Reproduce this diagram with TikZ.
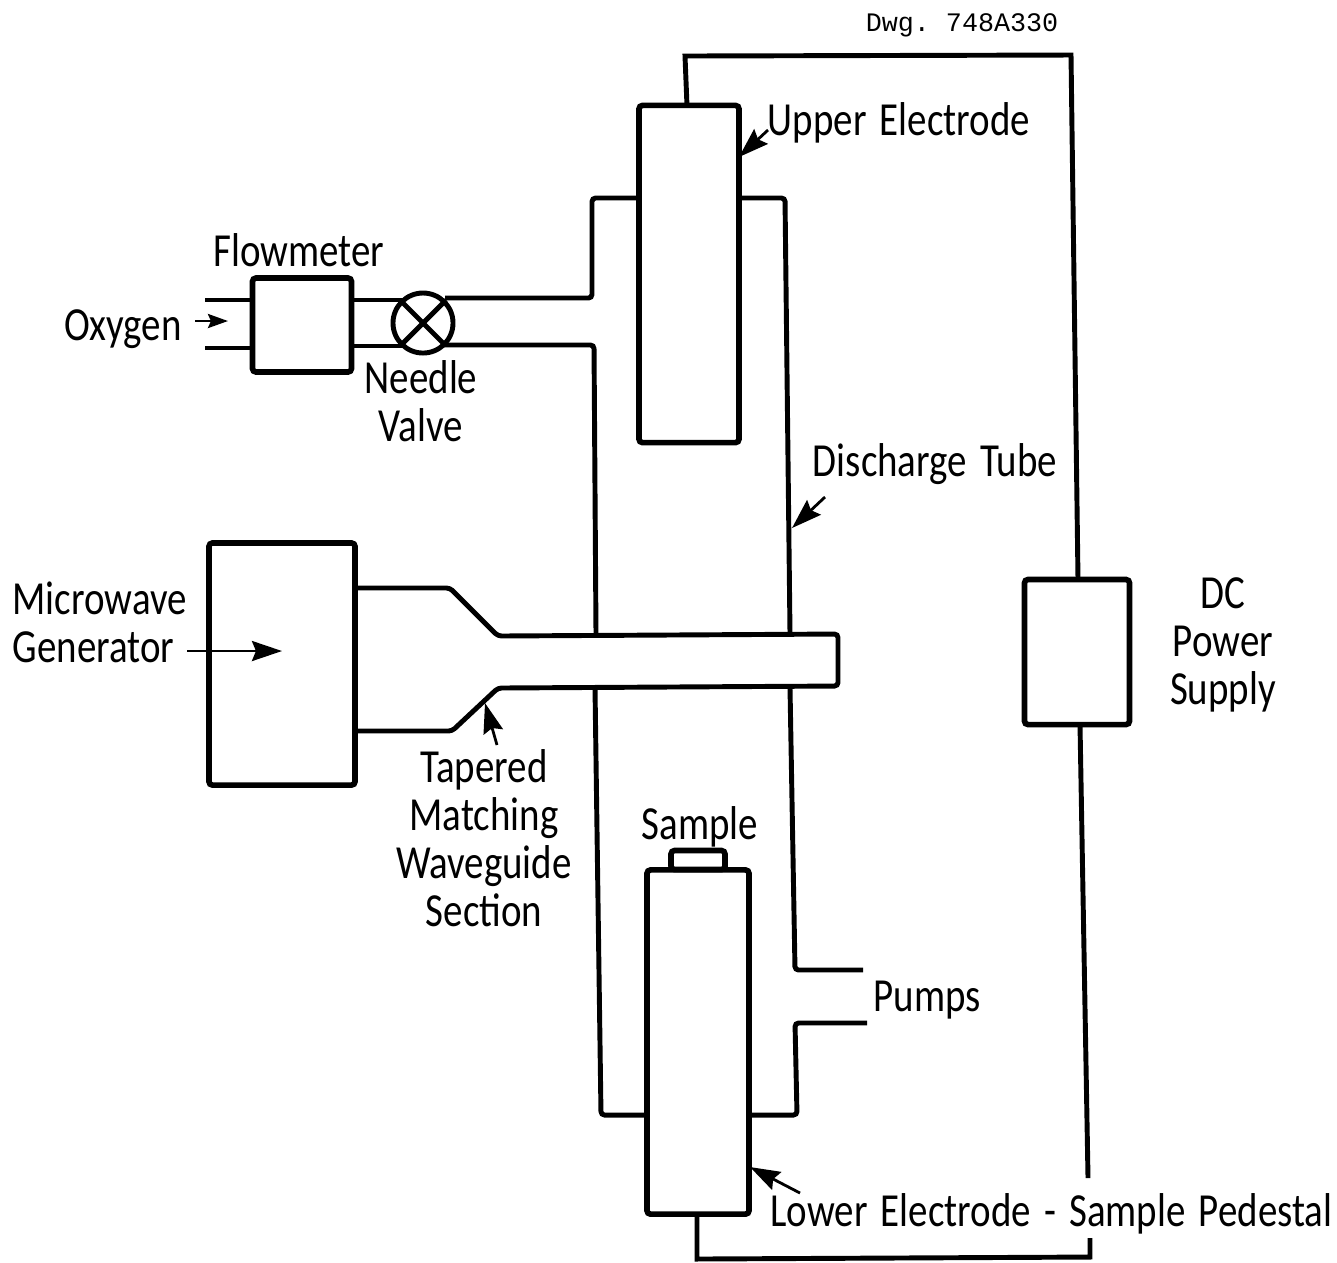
\documentclass[tikz,border=0pt]{standalone}
\usepackage{fontspec}
\setmainfont[FakeStretch=0.82, WordSpace=1.5]{Carlito}
\setmonofont{Liberation Mono}
\usetikzlibrary{positioning, arrows.meta, calc}

\begin{document}
\begin{tikzpicture}[
  x=0.01cm, y=-0.01cm,
  part/.style={draw, line width=1.6pt, rounded corners=1pt, inner sep=0pt, outer sep=0pt},
  pipe/.style={line width=1.4pt, rounded corners=1pt},
  wire/.style={line width=1.4pt},
  callout/.style={-{Stealth[length=3mm, width=2mm, inset=0.4mm]}, line width=0.8pt},
  label/.style={font=\fontsize{13.5}{13.6}\selectfont, align=center, inner sep=0pt}
]
\useasboundingbox (0,0) rectangle (1337,1262);

% Electrodes and boxes
\node[part, minimum width=1.00cm, minimum height=3.37cm] (upper) at (689,274) {};
\node[part, minimum width=1.02cm, minimum height=3.44cm] (lower) at (698,1042) {};
\node[part, minimum width=0.54cm, minimum height=0.19cm] (sample) at (698,860) {};
\node[part, minimum width=0.99cm, minimum height=0.94cm] (flowmeter) at (302,325) {};
\node[part, minimum width=1.46cm, minimum height=2.42cm] (generator) at (282,664) {};
\node[part, minimum width=1.05cm, minimum height=1.45cm] (supply) at (1077,652) {};
\node[draw, circle, line width=1.4pt, minimum size=0.6cm, inner sep=0pt] (valve) at (423,323) {};
\draw[wire] (valve.north west) -- (valve.south east);
\draw[wire] (valve.north east) -- (valve.south west);

% Gas line
\coordinate (intop) at (205,300);
\coordinate (inbot) at (205,348);
\coordinate (flowtop) at (flowmeter.west |- intop);
\coordinate (flowbot) at (flowmeter.west |- inbot);
\coordinate (outtop) at (flowmeter.east |- 0,300);
\coordinate (outbot) at (flowmeter.east |- 0,346);
\coordinate (valtop) at (403,300);
\coordinate (valbot) at (403,346);
\coordinate (tubetop) at (445,298);
\coordinate (tubebot) at (445,345);
\draw[pipe] (intop) -- (flowtop);
\draw[pipe] (inbot) -- (flowbot);
\draw[pipe] (outtop) -- (valtop);
\draw[pipe] (outbot) -- (valbot);

% Discharge tube
\coordinate (topleft) at (upper.west |- 0,198);
\coordinate (topright) at (upper.east |- 0,198);
\coordinate (botleft) at (lower.west |- 0,1115);
\coordinate (botright) at (lower.east |- 0,1115);
\draw[pipe] (tubetop) -- (592,298) -- (592,198) -- (topleft);
\draw[pipe] (topright) -- (785,198) -- (790,634);
\draw[pipe] (tubebot) -- (594,345) -- (596,635);
\draw[pipe] (595,688) -- (601,1115) -- (botleft);
\draw[pipe] (790,688) -- (795,970) -- (863,970);
\draw[pipe] (867,1023) -- (795,1023) -- (797,1115) -- (botright);

% Waveguide
\coordinate (guidetop) at (generator.east |- 0,588);
\coordinate (guidebot) at (generator.east |- 0,731);
\draw[pipe] (guidetop) -- (450,588) -- (498,636) -- (838,634) -- (838,686)
  -- (498,688) -- (452,731) -- (guidebot);

% Power supply wiring
\coordinate (uppertap) at (687,106);
\coordinate (lowertap) at (697,1214);
\coordinate (supplytop) at (1078,580);
\coordinate (supplybot) at (1080,725);
\coordinate (gapabove) at (1088,1178);
\coordinate (gapbelow) at (1090,1238);
\draw[wire] (uppertap) -- (685,56) -- (1071,55) -- (supplytop);
\draw[wire] (supplybot) -- (gapabove);
\draw[wire] (lowertap) -- (697,1259) -- (1090,1257) -- (gapbelow);

% Labels
\node[font=\ttfamily\fontsize{7.6}{8}\selectfont, inner sep=0pt] (dwg) at (962,25) {Dwg. 748A330};
\node[label] (upperlabel) at (899,123) {Upper Electrode};
\node[label] (flowlabel) at (299,250) {Flowmeter};
\node[label] (oxygen) at (123,329) {Oxygen};
\node[label] (needle) at (421,401) {Needle\\Valve};
\node[label] (tubelabel) at (935,464) {Discharge Tube};
\node[label, align=left, anchor=west] (microwave) at (12,622) {Microwave\\Generator};
\node[label] (taper) at (484,838) {Tapered\\Matching\\Waveguide\\Section};
\node[label] (samplelabel) at (700,827) {Sample};
\node[label] (dc) at (1223,645) {DC\\Power\\Supply};
\node[label] (pumps) at (927,1000) {Pumps};
\node[label, anchor=east] (lowerlabel) at (1333,1214) {Lower Electrode - Sample Pedestal};

% Callout arrows
\coordinate (oxygentail) at (195,321);
\coordinate (oxygenend) at (228,321);
\coordinate (mictail) at (187,651);
\coordinate (micend) at (282,651);
\coordinate (uppertail) at (768,130);
\coordinate (uppertip) at (739,157);
\coordinate (tubetail) at (825,497);
\coordinate (tubetip) at (792,528);
\coordinate (tapertail) at (497,745);
\coordinate (tapertip) at (485,703);
\coordinate (lowertail) at (800,1193);
\coordinate (lowertip) at (750,1167);
\draw[callout, -{Stealth[length=2mm, width=1.4mm, inset=0.3mm]}] (oxygentail) -- (oxygenend);
\draw[callout] (mictail) -- (micend);
\draw[callout] (uppertail) -- (uppertip);
\draw[callout] (tubetail) -- (tubetip);
\draw[callout] (tapertail) -- (tapertip);
\draw[callout] (lowertail) -- (lowertip);
\end{tikzpicture}
\end{document}
